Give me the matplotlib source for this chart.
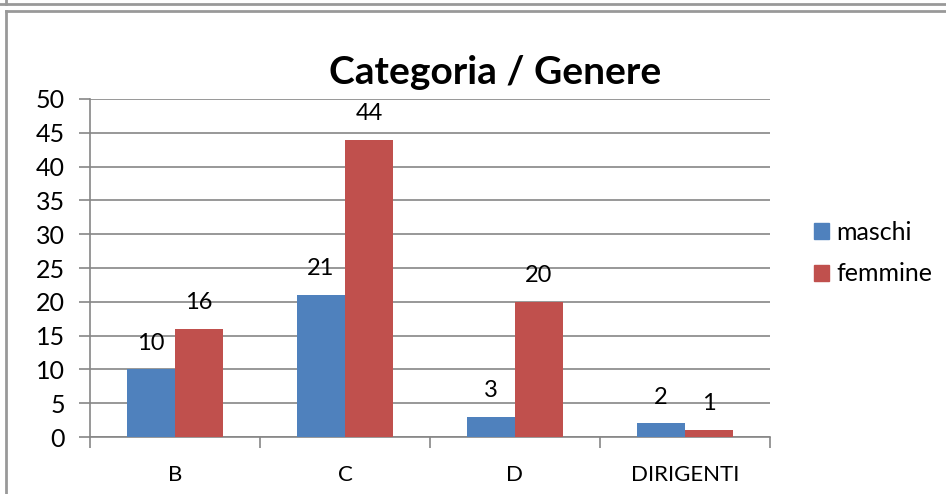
import numpy as np
import matplotlib.pyplot as plt
from matplotlib.lines import Line2D
from matplotlib.patches import Patch

# Dati del grafico
categorie = ['B', 'C', 'D', 'DIRIGENTI']
maschi = [10, 21, 3, 2]
femmine = [16, 44, 20, 1]
serie = ['maschi', 'femmine']
yticks = [0, 5, 10, 15, 20, 25, 30, 35, 40, 45, 50]

blu = '#4F81BD'
rosso = '#C0504D'
grigio = '#868686'

plt.rcParams['font.family'] = ['Lato', 'DejaVu Sans']

fig = plt.figure(figsize=(9.46, 4.94), dpi=100)
ax = fig.add_axes([90 / 946, 1 - 437 / 494, 680 / 946, 338 / 494])

x = np.arange(len(categorie))
w = 0.282
b1 = ax.bar(x - w / 2, maschi, w, color=blu, label=serie[0], zorder=3)
b2 = ax.bar(x + w / 2, femmine, w, color=rosso, label=serie[1], zorder=3)

for bars, vals in ((b1, maschi), (b2, femmine)):
    for r, v in zip(bars, vals):
        ax.annotate(str(v), (r.get_x() + r.get_width() / 2, v),
                    xytext=(0, 19), textcoords='offset points',
                    ha='center', va='center', fontsize=17)

ax.set_xlim(-0.5, len(categorie) - 0.5)
ax.set_ylim(0, 50)
ax.set_yticks(yticks)
ax.set_xticks(x)
ax.set_xticklabels(categorie)
ax.set_xticks(np.arange(-0.5, len(categorie)), minor=True)
ax.tick_params(axis='x', which='major', length=0, pad=20, labelsize=16)
ax.tick_params(axis='x', which='minor', length=8, color=grigio, width=1.2)
ax.tick_params(axis='y', length=8, color=grigio, width=1.2, labelsize=18, pad=10)

ax.yaxis.grid(True, color=grigio, linewidth=1.2, zorder=0)
for s in ('top', 'right'):
    ax.spines[s].set_visible(False)
for s in ('left', 'bottom'):
    ax.spines[s].set_color(grigio)
    ax.spines[s].set_linewidth(1.2)

fig.text(495 / 946, 1 - 72 / 494, 'Categoria / Genere', ha='center', va='center',
         fontsize=28, fontweight='bold')

handles = [Patch(color=blu), Patch(color=rosso)]
fig.legend(handles, serie, loc='center left', bbox_to_anchor=(791 / 946, 1 - 253 / 494),
           frameon=False, fontsize=18, handlelength=0.6, handleheight=0.6,
           handletextpad=0.3, labelspacing=0.75)

# Cornici
fig.add_artist(Line2D([0, 1], [1 - 4 / 494] * 2, color='#999999', lw=2))
fig.add_artist(Line2D([6 / 946] * 2, [1 - 4 / 494, 1], color='#999999', lw=2))
fig.add_artist(Line2D([6 / 946, 1], [1 - 11 / 494] * 2, color='#999999', lw=2))
fig.add_artist(Line2D([6 / 946] * 2, [0, 1 - 11 / 494], color='#999999', lw=2))

fig.savefig('out.png', dpi=100)
